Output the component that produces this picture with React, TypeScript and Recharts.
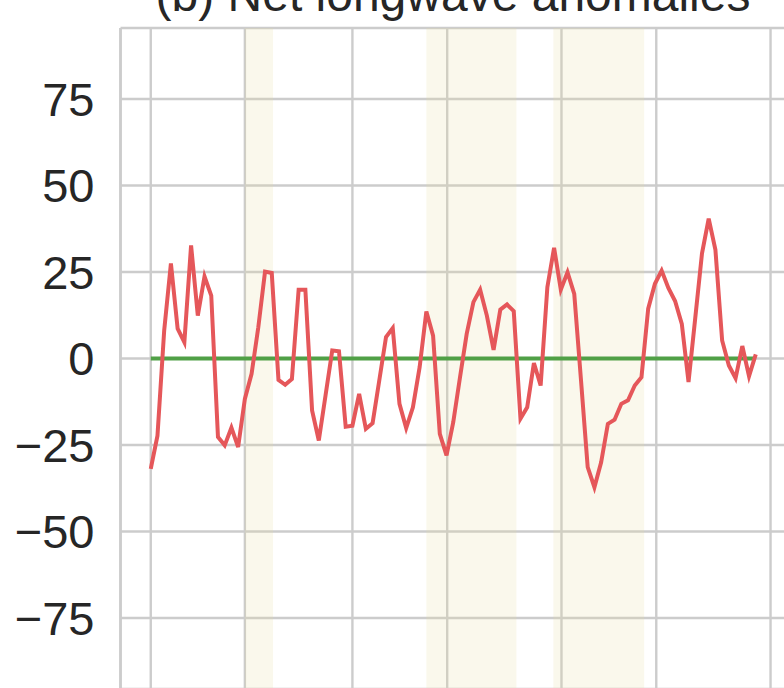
import { LineChart, Line, XAxis, YAxis, CartesianGrid, ReferenceArea, ReferenceLine } from 'recharts';

// monthly-ish anomaly series
const netLongwave = [
  -31.9, -22.3, 8.1, 27.5, 8.6, 4.7, 32.7, 12.4, 23.7, 18.2,
  -22.7, -25.1, -20.0, -25.6, -11.7, -4.4, 9.0, 25.1, 24.7, -6.2,
  -7.6, -5.9, 19.9, 19.9, -15.0, -23.7, -10.7, 2.3, 2.1, -19.7,
  -19.4, -10.2, -20.3, -18.7, -6.3, 6.2, 8.8, -13.1, -20.1, -14.1,
  -2.5, 13.6, 6.6, -21.8, -28.0, -18.4, -5.5, 7.1, 16.3, 19.9,
  12.4, 2.5, 14.1, 15.6, 13.7, -17.4, -14.1, -1.3, -7.8, 20.6,
  32.0, 19.9, 24.9, 18.7, -6.2, -31.4, -37.2, -30.0, -18.9, -17.7,
  -13.1, -12.1, -7.8, -5.4, 14.4, 21.6, 25.4, 20.4, 16.6, 10.0,
  -6.8, 11.7, 30.3, 40.4, 31.4, 5.2, -2.0, -5.7, 3.6, -5.1, 1.2,
];

const xTicks = [0, 14, 30, 44.1, 61.1, 75.2, 92.2];
const yTicks = [-75, -50, -25, 0, 25, 50, 75];

// shaded periods, in sample index units
const bandStarts = [14, 41, 59.9];
const bandEnds = [18.2, 54.4, 73.4];

const data = netLongwave.map((v, i) => ({ i, v }));

const FONT = '"Liberation Sans", Arial, sans-serif';
const GRID = '#cccccc';

export default function App() {
  return (
    <div style={{ position: 'absolute', left: 0, top: 0, width: 784, height: 688, overflow: 'hidden', background: '#fff' }}>
      <LineChart width={800} height={700} data={data} margin={{ top: 28, right: 14, bottom: 11, left: 0 }}>
        <CartesianGrid stroke={GRID} strokeWidth={2.4} />
        <XAxis
          dataKey="i"
          type="number"
          orientation="top"
          domain={[-4.5, 94.5]}
          ticks={xTicks}
          tick={() => <g />}
          tickLine={false}
          height={0}
          axisLine={{ stroke: GRID, strokeWidth: 2.6 }}
          allowDataOverflow
        />
        <YAxis
          type="number"
          domain={[-95.5, 95.5]}
          ticks={yTicks}
          width={120.5}
          tickLine={false}
          tickSize={0}
          tickMargin={26}
          axisLine={{ stroke: GRID, strokeWidth: 2.6 }}
          tick={{ fontSize: 47, fill: '#262626', fontFamily: FONT }}
          tickFormatter={(v: number) => (v < 0 ? `\u2212${Math.abs(v)}` : `${v}`)}
          allowDataOverflow
        />
        {bandStarts.map((s, k) => (
          <ReferenceArea key={k} x1={s} x2={bandEnds[k]} fill="#e8dca0" fillOpacity={0.2} stroke="none" />
        ))}
        <ReferenceLine segment={[{ x: 0, y: 0 }, { x: 90, y: 0 }]} stroke="#50a046" strokeWidth={4} />
        <Line
          type="linear"
          dataKey="v"
          stroke="#e5575a"
          strokeWidth={4}
          dot={false}
          isAnimationActive={false}
        />
      </LineChart>
      <div
        style={{
          position: 'absolute',
          left: 53,
          top: -29,
          width: 800,
          textAlign: 'center',
          fontFamily: FONT,
          fontSize: 48,
          lineHeight: 1,
          color: '#262626',
          whiteSpace: 'nowrap',
        }}
      >
        (b) Net longwave anomalies
      </div>
    </div>
  );
}
